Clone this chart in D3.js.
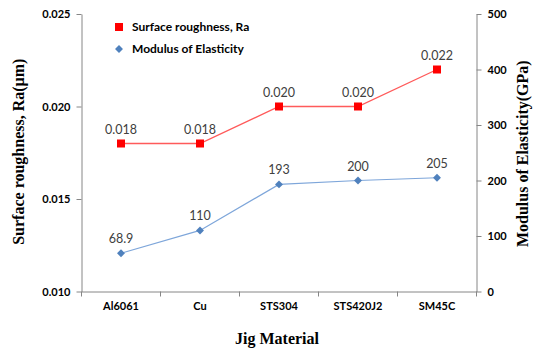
<!DOCTYPE html>
<html><head><meta charset="utf-8">
<script src="https://cdn.jsdelivr.net/npm/d3@7"></script>
<style>body{margin:0;background:#fff}svg{display:block}</style>
</head><body>
<svg id="c" width="539" height="349"></svg>
<script>
const categories = ["Al6061", "Cu", "STS304", "STS420J2", "SM45C"];
const roughness = [0.018, 0.018, 0.020, 0.020, 0.022];
const roughnessLabels = ["0.018", "0.018", "0.020", "0.020", "0.022"];
const modulus = [68.9, 110, 193, 200, 205];
const modulusLabels = ["68.9", "110", "193", "200", "205"];
const leftTicks = [0.010, 0.015, 0.020, 0.025];
const rightTicks = [0, 100, 200, 300, 400, 500];

const svg = d3.select("#c");
const L = 81.5, R = 476.5, T = 14, B = 291.5;
const x = d3.scaleBand().domain(categories).range([L, R]);
const yL = d3.scaleLinear().domain([0.010, 0.025]).range([B, T]);
const yR = d3.scaleLinear().domain([0, 500]).range([B, T]);
const tickFont = "Lato, 'Open Sans', sans-serif";

const gL = svg.append("g").attr("transform", `translate(${L},0)`)
  .call(d3.axisLeft(yL).tickValues(leftTicks).tickFormat(d3.format(".3f")).tickSize(5).tickSizeOuter(0).tickPadding(6));
const gR = svg.append("g").attr("transform", `translate(${R},0)`)
  .call(d3.axisRight(yR).tickValues(rightTicks).tickFormat(d3.format("d")).tickSize(5).tickSizeOuter(0).tickPadding(6));
const gB = svg.append("g").attr("transform", `translate(0,${B})`)
  .call(d3.axisBottom(x).tickSize(0).tickSizeOuter(0).tickPadding(11));
svg.append("g").selectAll("line").data(d3.range(categories.length + 1)).join("line")
  .attr("x1", i => L + i * x.step()).attr("x2", i => L + i * x.step())
  .attr("y1", B).attr("y2", B + 5).attr("stroke", "#868686");

[gL, gR, gB].forEach(g => {
  g.selectAll(".domain").attr("stroke", "#868686");
  g.selectAll(".tick line").attr("stroke", "#868686");
  g.selectAll("text").attr("font-family", tickFont).attr("font-weight", "bold")
    .attr("font-size", 11).attr("fill", "#000");
});

const cx = d => x(d) + x.bandwidth() / 2;

svg.append("path").datum(roughness)
  .attr("d", d3.line().x((d, i) => cx(categories[i])).y(d => yL(d)))
  .attr("fill", "none").attr("stroke", "#FF5A5A").attr("stroke-width", 1.3);
svg.append("g").selectAll("rect").data(roughness).join("rect")
  .attr("x", (d, i) => cx(categories[i]) - 4).attr("y", d => yL(d) - 4)
  .attr("width", 8).attr("height", 8).attr("fill", "#FF0000");

svg.append("path").datum(modulus)
  .attr("d", d3.line().x((d, i) => cx(categories[i])).y(d => yR(d)))
  .attr("fill", "none").attr("stroke", "#7EA6DA").attr("stroke-width", 1.2);
const diamond = d3.symbol().type(d3.symbolDiamond2).size(40);
svg.append("g").selectAll("path").data(modulus).join("path")
  .attr("transform", (d, i) => `translate(${cx(categories[i])},${yR(d)})`)
  .attr("d", diamond).attr("fill", "#4F81BD");

const lblFont = "Lato, 'Open Sans', sans-serif";
svg.append("g").selectAll("text").data(roughness).join("text")
  .attr("x", (d, i) => cx(categories[i])).attr("y", d => yL(d) - 10)
  .attr("text-anchor", "middle").attr("font-family", lblFont).attr("font-size", 12.5)
  .attr("fill", "#404040").text((d, i) => roughnessLabels[i]);
svg.append("g").selectAll("text").data(modulus).join("text")
  .attr("x", (d, i) => cx(categories[i])).attr("y", d => yR(d) - 10)
  .attr("text-anchor", "middle").attr("font-family", lblFont).attr("font-size", 12.5)
  .attr("fill", "#404040").text((d, i) => modulusLabels[i]);

const leg = svg.append("g");
leg.append("rect").attr("x", 115).attr("y", 23).attr("width", 8).attr("height", 8).attr("fill", "#FF0000");
leg.append("path").attr("transform", "translate(119,49)").attr("d", diamond).attr("fill", "#4F81BD");
leg.append("text").attr("x", 132).attr("y", 31).attr("font-family", tickFont).attr("font-weight", "bold")
  .attr("font-size", 12).attr("fill", "#000").text("Surface roughness, Ra");
leg.append("text").attr("x", 132).attr("y", 53).attr("font-family", tickFont).attr("font-weight", "bold")
  .attr("font-size", 12).attr("fill", "#000").text("Modulus of Elasticity");

const titleFont = "'Liberation Serif', 'Times New Roman', serif";
svg.append("text").attr("transform", `translate(24,${(T + B) / 2 - 1}) rotate(-90)`)
  .attr("text-anchor", "middle").attr("font-family", titleFont).attr("font-weight", "bold")
  .attr("font-size", 16).attr("fill", "#000").text("Surface roughness, Ra(\u03bcm)");
svg.append("text").attr("transform", `translate(528,${(T + B) / 2 + 1}) rotate(-90)`)
  .attr("text-anchor", "middle").attr("font-family", titleFont).attr("font-weight", "bold")
  .attr("font-size", 16).attr("fill", "#000").text("Modulus of Elasticity(GPa)");
svg.append("text").attr("x", 277).attr("y", 344)
  .attr("text-anchor", "middle").attr("font-family", titleFont).attr("font-weight", "bold")
  .attr("font-size", 16).attr("fill", "#000").text("Jig Material");
</script>
</body></html>
